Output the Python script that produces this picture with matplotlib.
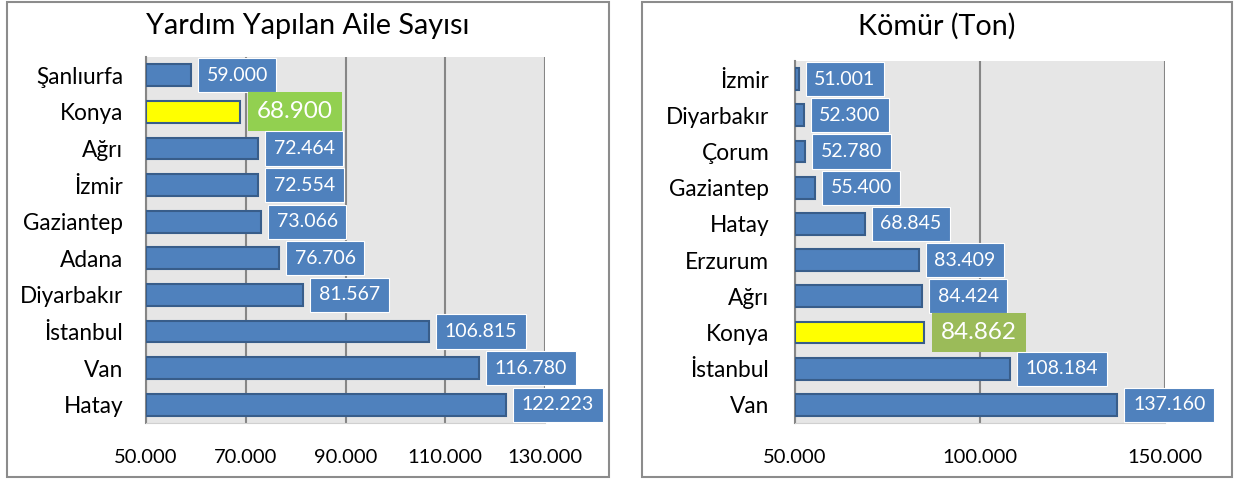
import matplotlib
matplotlib.use("Agg")
import matplotlib.pyplot as plt
from matplotlib.patches import Rectangle

plt.rcParams['font.family'] = ['Lato', 'DejaVu Sans']

# left panel data
aile_iller = ['Şanlıurfa', 'Konya', 'Ağrı', 'İzmir', 'Gaziantep', 'Adana',
              'Diyarbakır', 'İstanbul', 'Van', 'Hatay']
aile_degerler = [59000, 68900, 72464, 72554, 73066, 76706, 81567, 106815, 116780, 122223]
aile_ticks = [50000, 70000, 90000, 110000, 130000]

# right panel data
komur_iller = ['İzmir', 'Diyarbakır', 'Çorum', 'Gaziantep', 'Hatay', 'Erzurum',
               'Ağrı', 'Konya', 'İstanbul', 'Van']
komur_degerler = [51001, 52300, 52780, 55400, 68845, 83409, 84424, 84862, 108184, 137160]
komur_ticks = [50000, 100000, 150000]

BLUE = '#4f81bd'
EDGE = '#385d8a'


def fmt(v):
    return f"{v:,}".replace(',', '.')


def panel(fig, rect, frame, title, iller, degerler, ticks, green, ypad):
    ax = fig.add_axes(rect)
    ax.set_facecolor('#e6e6e6')
    ypos = list(range(len(iller)))
    colors = ['#ffff00' if c == 'Konya' else BLUE for c in iller]
    ax.barh(ypos, [d - ticks[0] for d in degerler], left=ticks[0], height=0.6,
            color=colors, edgecolor=EDGE, linewidth=1.5, zorder=3)
    ax.set_xlim(ticks[0], ticks[-1])
    ax.set_ylim(len(iller) - 0.5, -0.5)
    ax.set_xticks(ticks)
    ax.set_xticklabels([fmt(t) for t in ticks], fontsize=14.5)
    ax.set_yticks(ypos)
    ax.set_yticklabels(iller, fontsize=16.3)
    ax.tick_params(length=0)
    ax.tick_params(axis='x', pad=19)
    ax.tick_params(axis='y', pad=ypad)
    ax.xaxis.grid(True, color='#868686', linewidth=1.5)
    ax.set_axisbelow(True)
    for s in ['top', 'right']:
        ax.spines[s].set_visible(False)
    ax.spines['left'].set_color('#868686')
    ax.spines['left'].set_linewidth(1.5)
    ax.spines['bottom'].set_color('#d0d0d0')
    for y, c, d in zip(ypos, iller, degerler):
        if c == 'Konya':
            ax.annotate(fmt(d), (d, y), xytext=(12, 0), textcoords='offset points',
                        va='center', ha='left', fontsize=17.5, color='white', zorder=5,
                        bbox=dict(boxstyle='square,pad=0.37', fc=green, ec='none'))
        else:
            ax.annotate(fmt(d), (d, y), xytext=(11.2, 0), textcoords='offset points',
                        va='center', ha='left', fontsize=14, color='white', zorder=5,
                        bbox=dict(boxstyle='square,pad=0.44', fc=BLUE, ec='white',
                                  linewidth=0.8),
                        annotation_clip=False)
    fig.text((frame[0] + frame[2]) / 2, 0.945, title, ha='center', va='center',
             fontsize=20.7)
    fig.add_artist(Rectangle((frame[0], frame[1]), frame[2] - frame[0],
                             frame[3] - frame[1], transform=fig.transFigure,
                             fill=False, edgecolor='#8c8c8c', linewidth=1.5))
    return ax


fig = plt.figure(figsize=(12.39, 4.8), dpi=100)
W, H = 1239, 480
panel(fig, [146 / W, 1 - 423 / H, (545 - 146) / W, (423 - 57) / H],
      [7 / W, 3 / H, 609 / W, 478 / H], 'Yardım Yapılan Aile Sayısı',
      aile_iller, aile_degerler, aile_ticks, '#92d050', 16.5)
panel(fig, [795 / W, 1 - 423 / H, (1165 - 795) / W, (423 - 61) / H],
      [642 / W, 3 / H, 1232 / W, 478 / H], 'Kömür (Ton)',
      komur_iller, komur_degerler, komur_ticks, '#9bbb59', 18.5)

fig.savefig('out.png', dpi=100)
